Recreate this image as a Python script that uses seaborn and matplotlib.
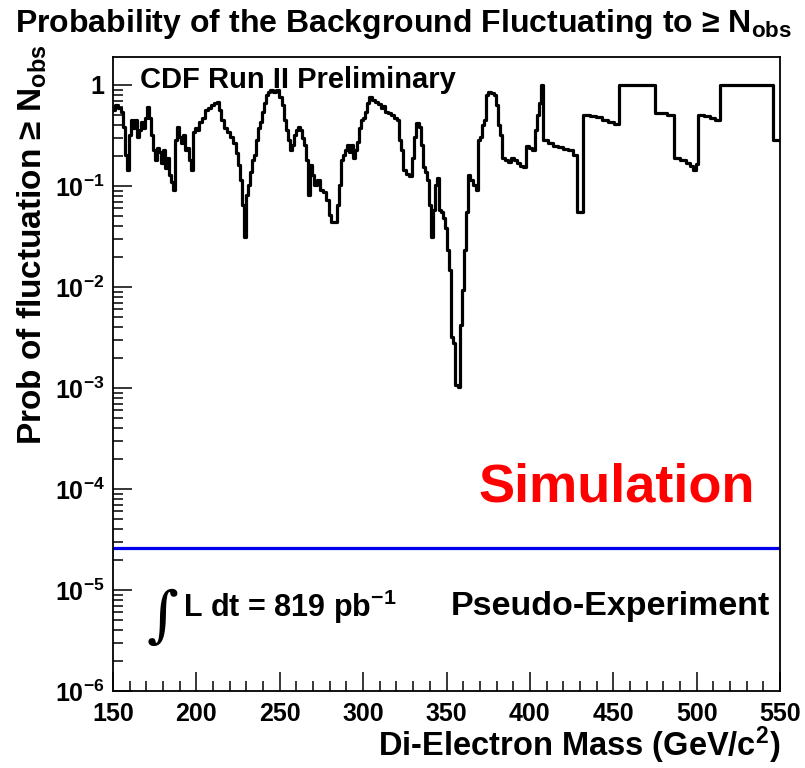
import matplotlib
matplotlib.use("Agg")
import matplotlib.pyplot as plt
import numpy as np
import pandas as pd
import seaborn as sns
from matplotlib.ticker import FixedLocator, FixedFormatter, LogLocator, MultipleLocator, NullFormatter

# Scan of the background-fluctuation probability vs di-electron mass (step histogram)
mass = [
    150.0, 151.2, 153.0, 154.8, 156.0, 157.2, 158.4, 159.6, 160.8, 162.0,
    163.2, 164.4, 165.6, 166.8, 168.0, 169.2, 170.4, 171.6, 172.8, 174.0,
    175.2, 176.4, 177.6, 178.8, 180.0, 181.2, 182.4, 183.6, 184.8, 186.0,
    187.2, 188.4, 189.6, 190.8, 192.0, 193.2, 194.4, 195.6, 196.8, 198.0,
    199.2, 200.4, 201.6, 203.4, 205.2, 207.0, 208.8, 210.6, 212.4, 213.6,
    214.8, 216.6, 218.4, 220.2, 222.0, 223.8, 225.0, 226.2, 227.4, 228.6,
    229.8, 231.0, 232.2, 233.4, 234.6, 235.8, 237.0, 238.2, 239.4, 240.6,
    241.8, 243.0, 244.2, 246.0, 247.8, 249.6, 251.4, 252.6, 253.8, 255.0,
    256.2, 257.4, 258.6, 259.8, 261.0, 262.2, 263.4, 264.6, 265.8, 267.0,
    268.2, 269.4, 270.6, 272.4, 274.2, 276.0, 277.8, 279.6, 280.8, 284.4,
    285.6, 286.8, 288.0, 289.2, 290.4, 291.6, 292.8, 294.0, 295.2, 296.4,
    297.6, 298.8, 300.0, 301.2, 302.4, 303.6, 305.4, 307.2, 309.0, 310.8,
    312.0, 313.2, 315.0, 316.8, 318.6, 320.4, 321.6, 322.8, 324.0, 325.8,
    327.6, 329.4, 330.6, 331.8, 333.6, 334.8, 336.0, 337.2, 338.4, 339.6,
    340.8, 342.0, 343.2, 344.4, 345.6, 346.8, 348.0, 349.2, 350.4, 351.6,
    352.8, 354.0, 355.2, 357.0, 358.2, 359.4, 360.6, 361.8, 363.0, 364.2,
    366.0, 367.8, 369.0, 370.2, 371.4, 372.6, 373.8, 375.0, 376.8, 378.6,
    379.8, 381.0, 382.2, 383.4, 385.2, 387.0, 388.8, 390.6, 392.4, 394.2,
    396.0, 397.8, 399.6, 401.4, 403.2, 404.4, 405.6, 406.8, 408.0, 411.0,
    414.0, 417.0, 420.0, 423.0, 426.0, 428.4, 432.0, 436.2, 439.8, 443.4,
    447.0, 450.6, 453.6, 475.2, 482.4, 486.6, 490.2, 493.8, 496.2, 498.0,
    499.8, 501.0, 504.6, 508.2, 511.2, 514.2, 546.0, 550.0,
]
prob = [
    0.566, 0.634, 0.592, 0.541, 0.384, 0.203, 0.144, 0.320, 0.450, 0.375,
    0.450, 0.306, 0.358, 0.430, 0.375, 0.471, 0.606, 0.471, 0.320, 0.227,
    0.181, 0.238, 0.217, 0.169, 0.227, 0.151, 0.189, 0.128, 0.110, 0.0913,
    0.285, 0.384, 0.306, 0.267, 0.320, 0.227, 0.238, 0.181, 0.144, 0.343,
    0.375, 0.358, 0.430, 0.471, 0.566, 0.592, 0.634, 0.663, 0.679, 0.566,
    0.450, 0.375, 0.343, 0.306, 0.267, 0.212, 0.161, 0.115, 0.0648, 0.0313,
    0.0814, 0.102, 0.138, 0.181, 0.203, 0.285, 0.375, 0.430, 0.541, 0.663,
    0.796, 0.852, 0.892, 0.852, 0.892, 0.761, 0.634, 0.450, 0.358, 0.285,
    0.227, 0.255, 0.320, 0.358, 0.384, 0.358, 0.299, 0.255, 0.181, 0.0814,
    0.161, 0.128, 0.102, 0.115, 0.0913, 0.0872, 0.0727, 0.0516, 0.0440, 0.0648,
    0.102, 0.181, 0.203, 0.227, 0.255, 0.217, 0.255, 0.189, 0.227, 0.273,
    0.375, 0.450, 0.471, 0.541, 0.663, 0.761, 0.710, 0.679, 0.649, 0.592,
    0.620, 0.541, 0.528, 0.505, 0.471, 0.450, 0.285, 0.227, 0.144, 0.131,
    0.126, 0.189, 0.306, 0.421, 0.384, 0.255, 0.154, 0.138, 0.115, 0.0648,
    0.0313, 0.0578, 0.102, 0.120, 0.0578, 0.0553, 0.0482, 0.0384, 0.0232, 0.0147,
    0.00320, 0.00279, 0.00107, 0.00102, 0.00421, 0.00934, 0.0232, 0.0553, 0.128, 0.115,
    0.102, 0.0913, 0.285, 0.306, 0.402, 0.450, 0.796, 0.852, 0.833, 0.796,
    0.634, 0.402, 0.320, 0.189, 0.181, 0.173, 0.189, 0.181, 0.169, 0.158,
    0.154, 0.249, 0.238, 0.227, 0.358, 0.505, 0.663, 1.0, 0.285, 0.267,
    0.249, 0.243, 0.232, 0.227, 0.203, 0.055, 0.505, 0.493, 0.482, 0.450,
    0.430, 0.411, 1.0, 0.528, 0.505, 0.189, 0.181, 0.169, 0.158, 0.144,
    0.165, 0.505, 0.493, 0.471, 0.450, 1.0, 0.285, 0.285,
]
threshold = 2.6e-5

x_ticks = [150, 200, 250, 300, 350, 400, 450, 500, 550]
y_ticks = [1e-6, 1e-5, 1e-4, 1e-3, 1e-2, 1e-1, 1.0]
y_tick_labels = [r"$10^{-6}$", r"$10^{-5}$", r"$10^{-4}$", r"$10^{-3}$",
                 r"$10^{-2}$", r"$10^{-1}$", "1"]

sns.set_style("ticks")
plt.rcParams.update({
    "font.family": ["Liberation Sans", "DejaVu Sans"],
    "font.weight": "bold",
    "text.color": "black",
    "axes.labelcolor": "black",
    "axes.edgecolor": "black",
    "xtick.color": "black",
    "ytick.color": "black",
    "mathtext.fontset": "custom",
    "mathtext.rm": "Liberation Sans:bold",
    "mathtext.bf": "Liberation Sans:bold",
    "mathtext.it": "Liberation Sans:bold:italic",
    "mathtext.sf": "Liberation Sans:bold",
    "mathtext.default": "bf",
})

W, H = 805, 768
fig = plt.figure(figsize=(W / 100, H / 100), dpi=100)
ax = fig.add_axes([113 / W, 77 / H, 667 / W, 634 / H])
ax.set_yscale("log")

df = pd.DataFrame({"mass": mass, "prob": prob})
sns.lineplot(data=df, x="mass", y="prob", drawstyle="steps-post", color="black",
             linewidth=2.3, estimator=None, sort=False, ax=ax)
ax.axhline(threshold, color="#0000ee", linewidth=2.3)

ax.set_xlim(150, 550)
ax.set_ylim(1e-6, 1.89)
ax.set_xlabel("")
ax.set_ylabel("")

ax.xaxis.set_major_locator(FixedLocator(x_ticks))
ax.xaxis.set_minor_locator(MultipleLocator(10))
ax.yaxis.set_major_locator(FixedLocator(y_ticks))
ax.yaxis.set_major_formatter(FixedFormatter(y_tick_labels))
ax.yaxis.set_minor_locator(LogLocator(base=10, subs=np.arange(2, 10)))
ax.yaxis.set_minor_formatter(NullFormatter())

ax.tick_params(axis="both", which="major", direction="in", length=14, width=1.1,
               labelsize=18, pad=6, colors="black")
ax.tick_params(axis="both", which="minor", direction="in", length=7, width=1.1,
               colors="black")
ax.tick_params(axis="x", which="major", pad=8)
for lab in ax.get_xticklabels() + ax.get_yticklabels():
    lab.set_fontweight("bold")
for sp in ax.spines.values():
    sp.set_linewidth(1.3)
    sp.set_visible(True)
    sp.set_color("black")

def fx(px):
    return px / W

def fy(py):
    return 1 - py / H

fig.text(fx(403), fy(24), "Probability of the Background Fluctuating to ≥ N$_{obs}$",
         ha="center", va="center", fontsize=23, fontweight="bold")
fig.text(fx(32), fy(45), "Prob of fluctuation ≥ N$_{obs}$", rotation=90,
         ha="center", va="top", fontsize=24, fontweight="bold")
fig.text(fx(780), fy(745), "Di-Electron Mass (GeV/c$^{2}$)", ha="right", va="center",
         fontsize=23.5, fontweight="bold")

fig.text(fx(140), fy(80), "CDF Run II Preliminary", ha="left", va="center",
         fontsize=21, fontweight="bold")
fig.text(fx(617), fy(487), "Simulation", ha="center", va="center",
         fontsize=39, fontweight="bold", color="#ff0000")
fig.text(fx(163), fy(618), "∫", ha="center", va="center", fontsize=44,
         family=["DejaVu Serif"], fontweight="normal")
fig.text(fx(183), fy(607), "L dt = 819 pb$^{-1}$", ha="left", va="center",
         fontsize=22, fontweight="bold")
fig.text(fx(770), fy(607), "Pseudo-Experiment", ha="right", va="center",
         fontsize=24.5, fontweight="bold")

fig.savefig("out.png", dpi=100)
